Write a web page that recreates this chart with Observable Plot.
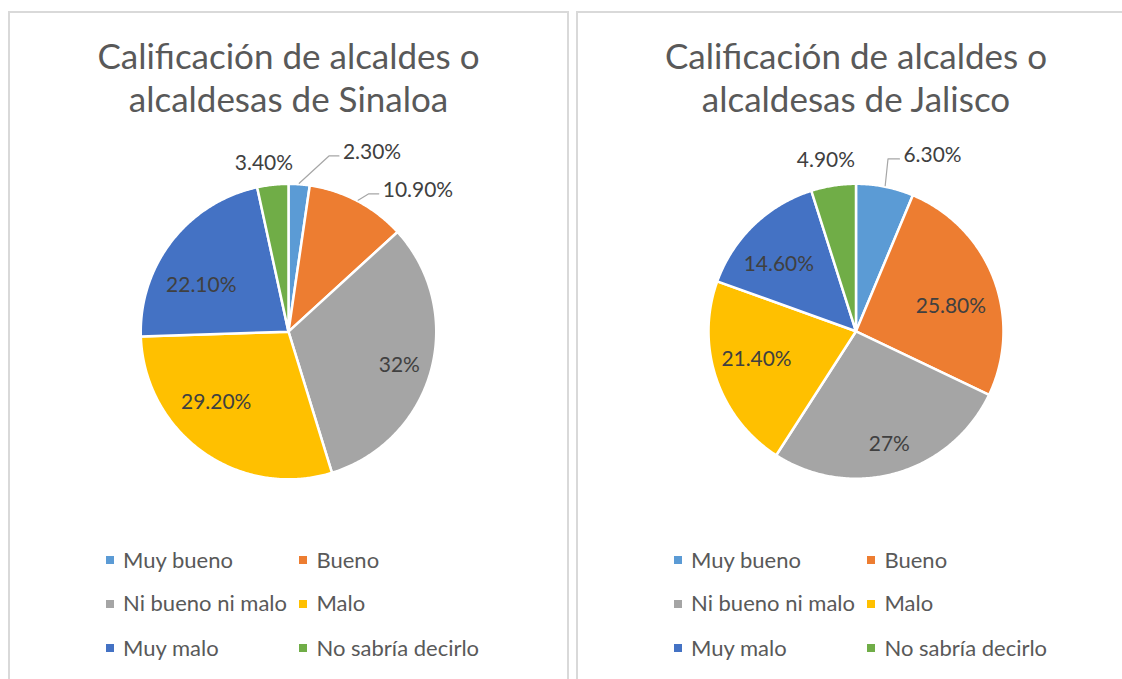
<!DOCTYPE html>
<html>
<head>
<meta charset="utf-8">
<script src="https://cdn.jsdelivr.net/npm/d3@7"></script>
<script src="https://cdn.jsdelivr.net/npm/@observablehq/plot@0.6"></script>
<style>
  html, body { margin: 0; padding: 0; background: #fff; overflow: hidden; }
  body { width: 1122px; height: 679px; position: relative; font-family: Lato, "Open Sans", sans-serif; }
  .panel { position: absolute; top: 11px; height: 720px; box-sizing: border-box;
           border: 2px solid #d9d9d9; border-bottom: none; }
  .title { position: absolute; left: 0; width: 100%; text-align: center; color: #595959;
           font-size: 35px; line-height: 43.7px; white-space: nowrap; }
  .plot { position: absolute; }
  .sw { position: absolute; width: 8px; height: 8px; }
  .lt { position: absolute; color: #595959; font-size: 22px; line-height: 24px; white-space: nowrap; }
</style>
</head>
<body>
<script>
// ---- data ----
const categories = ["Muy bueno", "Bueno", "Ni bueno ni malo", "Malo", "Muy malo", "No sabría decirlo"];
const colors = ["#5B9BD5", "#ED7D31", "#A5A5A5", "#FFC000", "#4472C4", "#70AD47"];
const sinaloaTitle = ["Calificación de alcaldes o", "alcaldesas de Sinaloa"];
const sinaloaValues = [2.3, 10.9, 32, 29.2, 22.1, 3.4];
const sinaloaLabels = ["2.30%", "10.90%", "32%", "29.20%", "22.10%", "3.40%"];
const jaliscoTitle = ["Calificación de alcaldes o", "alcaldesas de Jalisco"];
const jaliscoValues = [6.3, 25.8, 27, 21.4, 14.6, 4.9];
const jaliscoLabels = ["6.30%", "25.80%", "27%", "21.40%", "14.60%", "4.90%"];

// ---- layout (label placement: polar angle in degrees from 12 o'clock, distance in px) ----
const sinaloaLayout = [
  {a: 16.9, d: 187.6, anchor: "start", leader: true},
  {a: 33.7, d: 170.2, anchor: "start", leader: true},
  {a: 106.8, d: 116},
  {a: 225.8, d: 101},
  {a: 298, d: 99},
  {a: 351.7, d: 170.3}
];
const jaliscoLayout = [
  {a: 15.1, d: 182.8, anchor: "start", leader: true, vertical: true},
  {a: 75.0, d: 98.6},
  {a: 163.6, d: 118.3},
  {a: 254.1, d: 103.8},
  {a: 311.1, d: 102.8},
  {a: 350, d: 174.2}
];

const R = 148;
const W = 560, H = 400, CX = 280.5, CY = 200.5;

function pieMarks(values, labels, layout) {
  const arcs = d3.pie().sort(null).value(d => d)(values);
  const marks = [];
  arcs.forEach((p, i) => {
    const pts = [[0, 0]];
    const n = Math.max(2, Math.ceil((p.endAngle - p.startAngle) / (Math.PI / 360)));
    for (let k = 0; k <= n; k++) {
      const a = p.startAngle + (p.endAngle - p.startAngle) * k / n;
      pts.push([R * Math.sin(a), -R * Math.cos(a)]);
    }
    marks.push(Plot.line(pts, {x: d => d[0], y: d => d[1], curve: "linear-closed",
      fill: colors[i], stroke: "white", strokeWidth: 2.5}));
  });
  const labelData = arcs.map((p, i) => {
    const L = layout[i];
    const t = L.a * Math.PI / 180;
    return {x: L.d * Math.sin(t), y: -L.d * Math.cos(t), text: labels[i],
            anchor: L.anchor || "middle", mid: (p.startAngle + p.endAngle) / 2, L};
  });
  labelData.filter(d => d.L.leader).forEach(d => {
    const start = [(R + 1) * Math.sin(d.mid), -(R + 1) * Math.cos(d.mid)];
    const end = [d.x - 4, d.y + 3.5];
    const bend = [end[0] - (d.L.vertical ? 11.5 : 10), end[1]];
    marks.push(Plot.line([start, bend, end], {x: q => q[0], y: q => q[1],
      stroke: "#a6a6a6", strokeWidth: 1.2}));
  });
  ["start", "middle"].forEach(anc => {
    marks.push(Plot.text(labelData.filter(d => d.anchor === anc), {x: "x", y: "y", text: "text",
      textAnchor: anc, fontSize: 21, fill: "#404040", fontFamily: "Lato"}));
  });
  return marks;
}

function panel(left, width, title, values, labels, layout) {
  const div = document.createElement("div");
  div.className = "panel";
  div.style.left = left + "px";
  div.style.width = width + "px";
  document.body.appendChild(div);

  const t = document.createElement("div");
  t.className = "title";
  t.style.top = (33.6 - 13) + "px";
  t.innerHTML = title.join("<br>");
  div.appendChild(t);

  const svg = Plot.plot({
    width: W, height: H, margin: 0,
    x: {domain: [-CX, W - CX], range: [0, W], axis: null},
    y: {domain: [-CY, H - CY], range: [0, H], axis: null},
    style: {background: "transparent", overflow: "visible"},
    marks: pieMarks(values, labels, layout)
  });
  const wrap = document.createElement("div");
  wrap.className = "plot";
  wrap.style.left = "-2px";
  wrap.style.top = (131 - 13) + "px";
  wrap.appendChild(svg);
  div.appendChild(wrap);

  // legend (3 rows x 2 columns)
  const rowsY = [560, 603.5, 648];
  const colSw = [98, 291], colTx = [115, 308.5];
  categories.forEach((c, i) => {
    const r = Math.floor(i / 2), col = i % 2;
    const sw = document.createElement("div");
    sw.className = "sw";
    sw.style.background = colors[i];
    sw.style.left = (colSw[col] - 2) + "px";
    sw.style.top = (rowsY[r] - 4 - 13) + "px";
    div.appendChild(sw);
    const tx = document.createElement("div");
    tx.className = "lt";
    tx.textContent = c;
    tx.style.left = (colTx[col] - 2) + "px";
    tx.style.top = (rowsY[r] - 12.5 - 13) + "px";
    div.appendChild(tx);
  });
}

panel(8, 561, sinaloaTitle, sinaloaValues, sinaloaLabels, sinaloaLayout);
panel(576, 560, jaliscoTitle, jaliscoValues, jaliscoLabels, jaliscoLayout);
</script>
</body>
</html>
